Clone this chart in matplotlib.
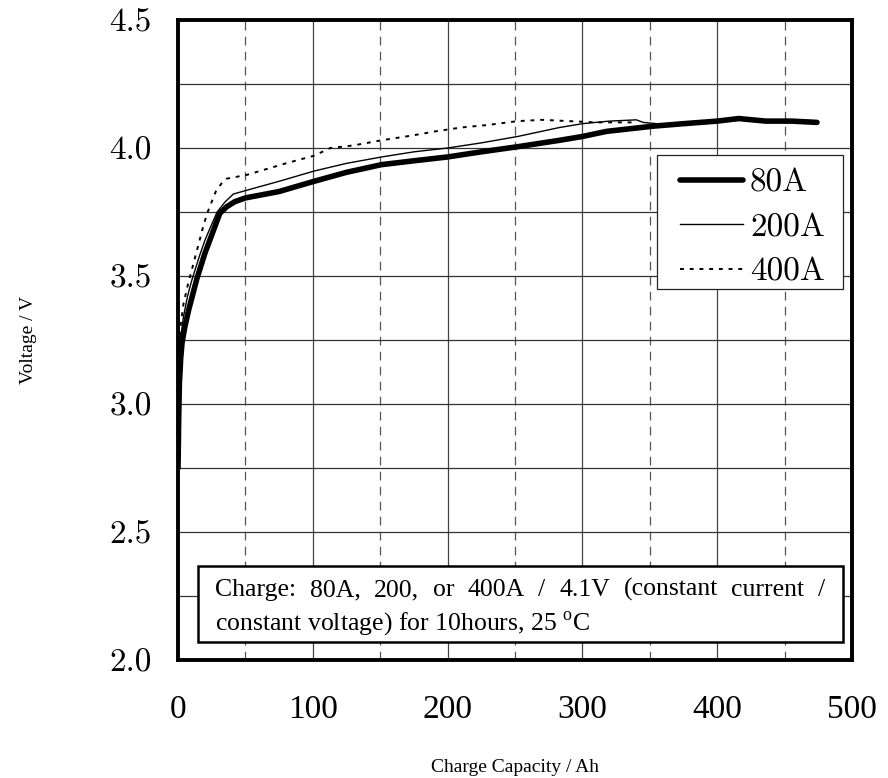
import matplotlib
matplotlib.use('agg')
import matplotlib.pyplot as plt
from matplotlib.ticker import MultipleLocator

plt.rcParams['font.family'] = ['Liberation Serif', 'DejaVu Serif']
plt.rcParams['mathtext.fontset'] = 'custom'
plt.rcParams['mathtext.rm'] = 'Liberation Serif'

# Charge curves (capacity in Ah, voltage in V)
cap_80 = [0, 0.5, 1, 2, 3, 5, 8, 11, 14, 17, 20, 25, 31, 36, 42, 50, 75, 101,
          125, 151, 175, 200, 225, 252, 283, 300, 318, 335, 352, 375, 400, 416,
          436, 455, 474]
volt_80 = [2.75, 2.95, 3.08, 3.18, 3.24, 3.30, 3.37, 3.43, 3.49, 3.54, 3.59,
           3.66, 3.745, 3.77, 3.79, 3.805, 3.83, 3.87, 3.905, 3.935, 3.95, 3.965,
           3.985, 4.005, 4.03, 4.045, 4.065, 4.075, 4.085, 4.095, 4.105, 4.115,
           4.105, 4.105, 4.10]

cap_200 = [0, 0.5, 1, 2, 4, 7, 10, 13, 16, 20, 24, 29, 35, 41, 51, 75, 101, 125,
           151, 175, 200, 225, 252, 283, 300, 320, 340, 345, 355, 365]
volt_200 = [2.80, 3.05, 3.17, 3.26, 3.34, 3.42, 3.48, 3.53, 3.58, 3.64, 3.69,
            3.75, 3.79, 3.82, 3.835, 3.87, 3.91, 3.94, 3.965, 3.985, 4.00, 4.02,
            4.045, 4.08, 4.095, 4.105, 4.11, 4.10, 4.095, 4.093]

cap_400 = [0, 0.5, 1, 2, 4, 7, 10, 13, 16, 19, 22, 25, 28, 32, 36, 51, 80, 101,
           113, 130, 151, 175, 191, 210, 230, 252, 270, 290, 310, 325, 340]
volt_400 = [2.85, 3.10, 3.22, 3.31, 3.39, 3.46, 3.52, 3.58, 3.64, 3.70, 3.75,
            3.79, 3.83, 3.86, 3.88, 3.895, 3.94, 3.97, 4.00, 4.01, 4.03, 4.05,
            4.065, 4.08, 4.09, 4.105, 4.11, 4.105, 4.10, 4.10, 4.10]

labels = ['80A', '200A', '400A']
x_ticks = [0, 100, 200, 300, 400, 500]
y_ticks = [2.0, 2.5, 3.0, 3.5, 4.0, 4.5]

note_line1 = ['Charge:', '80A,', '200,', 'or', '400A', '/', '4.1V', '(constant',
              'current', '/']
note_line2 = r'constant voltage) for 10hours, 25 $^{\rm o}$C'


def justified_line(ax, words, x0, x1, y, **kw):
    # lay words out so the line fills x0..x1 (axes fraction)
    renderer = ax.figure.canvas.get_renderer()
    texts = [ax.text(0, y, w, transform=ax.transAxes, **kw) for w in words]
    widths = [t.get_window_extent(renderer).width for t in texts]
    ax_w = ax.get_window_extent(renderer).width
    gap = ((x1 - x0) * ax_w - sum(widths)) / (len(words) - 1)
    pos = x0 * ax_w
    for t, w in zip(texts, widths):
        t.set_x(pos / ax_w)
        pos += w + gap


fig = plt.figure(figsize=(8.88, 7.78), dpi=100)
ax = fig.add_axes([0.2005, 0.1517, 0.759, 0.8226])

ax.set_xlim(0, 500)
ax.set_ylim(2.0, 4.5)
ax.set_xticks(x_ticks)
ax.set_yticks(y_ticks)
ax.set_xticklabels([str(v) for v in x_ticks])
ax.set_yticklabels(['%.1f' % v for v in y_ticks])
ax.xaxis.set_minor_locator(MultipleLocator(50))
ax.yaxis.set_minor_locator(MultipleLocator(0.25))
ax.tick_params(which='both', length=0)
ax.tick_params(axis='x', labelsize=24, pad=25)
ax.tick_params(axis='y', labelsize=24, pad=19)
for lab in ax.get_yticklabels():
    lab.set_fontfamily('cmr10')

# grid: solid horizontals every 0.25 V, solid verticals at 100s, dashed at 50s
ax.grid(True, which='both', axis='y', color='#333333', linewidth=0.9)
ax.grid(True, which='major', axis='x', color='#444444', linewidth=0.9)
ax.grid(True, which='minor', axis='x', color='#555555', linewidth=0.9,
        linestyle=(0, (7, 5)))
ax.set_axisbelow(True)

for side in ['top', 'bottom', 'left', 'right']:
    ax.spines[side].set_linewidth(2.8)
    ax.spines[side].set_zorder(5)

l80, = ax.plot(cap_80, volt_80, color='black', linewidth=4.0,
               solid_capstyle='round', zorder=3)
l200, = ax.plot(cap_200, volt_200, color='black', linewidth=1.0, zorder=3)
l400, = ax.plot(cap_400, volt_400, color='black', linewidth=1.4,
                linestyle=(0, (2, 3)), zorder=3)

# legend frame drawn by hand so its padding can differ per side
leg_frame = plt.Rectangle((0.7107, 0.5797), 0.2759, 0.2093,
                          transform=ax.transAxes, facecolor='white',
                          edgecolor='#222222', linewidth=0.9, zorder=4)
ax.add_patch(leg_frame)
leg = ax.legend([l80, l200, l400], labels, loc='center left',
                bbox_to_anchor=(0.7448, 0.676), frameon=False,
                prop={'family': 'cmr10', 'size': 24},
                handlelength=1.89, handletextpad=0.21, labelspacing=0.45,
                borderpad=0, borderaxespad=0)
leg.set_zorder(6)

ax.set_ylabel('Voltage / V', fontsize=14)
ax.set_xlabel('Charge Capacity / Ah', fontsize=14)
ax.yaxis.set_label_coords(-0.209, 0.5)
ax.xaxis.set_label_coords(0.5, -0.155)

# note box
box = plt.Rectangle((0.030, 0.028), 0.957, 0.119, transform=ax.transAxes,
                    facecolor='white', edgecolor='black', linewidth=1.8,
                    zorder=4)
ax.add_patch(box)
justified_line(ax, note_line1, 0.055, 0.960, 0.100, fontsize=18.5,
               va='baseline', zorder=6)
ax.text(0.055, 0.047, note_line2, transform=ax.transAxes, fontsize=18.5,
        va='baseline', zorder=6)

fig.savefig('out.png', dpi=100)
